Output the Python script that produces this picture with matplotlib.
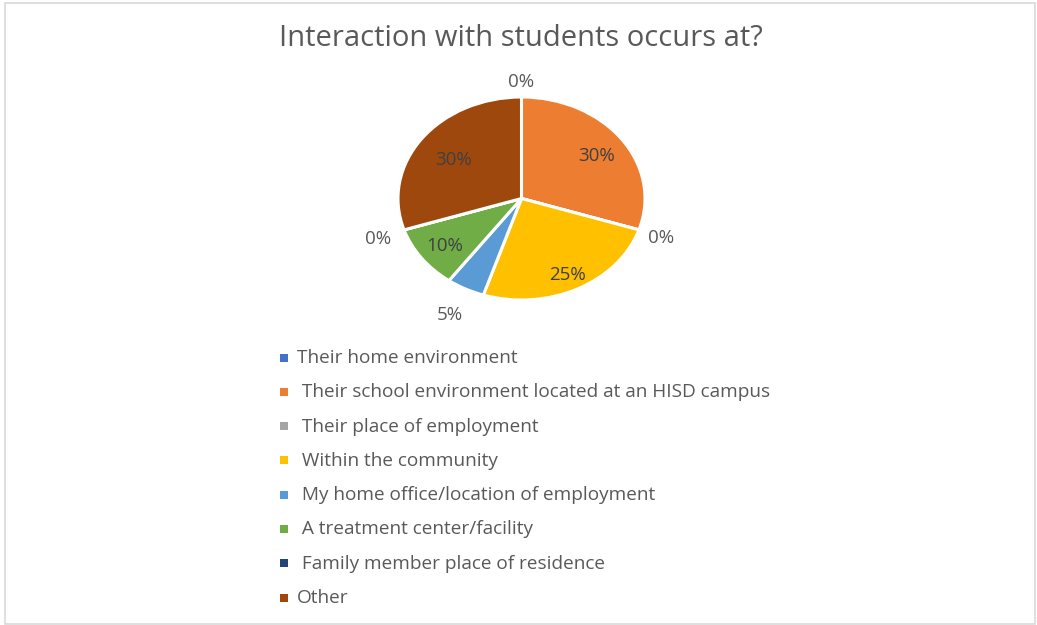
import matplotlib
matplotlib.use("Agg")
import matplotlib.pyplot as plt
import numpy as np

plt.rcParams['font.family'] = ['Open Sans', 'DejaVu Sans']

title = "Interaction with students occurs at?"
categories = [
    "Their home environment",
    " Their school environment located at an HISD campus",
    " Their place of employment",
    " Within the community",
    " My home office/location of employment",
    " A treatment center/facility",
    " Family member place of residence",
    "Other",
]
percents = [0, 30, 0, 25, 5, 10, 0, 30]
colors = ["#4472C4", "#ED7D31", "#A5A5A5", "#FFC000",
          "#5B9BD5", "#70AD47", "#264478", "#9E480E"]

# label placement: radial distance (fraction of radius) per slice
label_radius = [1.17, 0.75, 1.19, 0.82, 1.27, 0.77, 1.22, 0.68]

W, H = 1037, 625
fig = plt.figure(figsize=(W / 100, H / 100), dpi=100)
fig.patch.set_facecolor("white")

# chart border
fig.add_artist(plt.Rectangle((5 / W, 1 / H), 1030 / W, 621 / H,
                             transform=fig.transFigure, fill=False,
                             edgecolor="#d9d9d9", linewidth=1.2))

fig.text(521 / W, 1 - 38 / H, title, ha="center", va="center",
         fontsize=21, color="#595959")

# pie axes spans the ellipse of the plot area
left, right, top, bottom = 398, 645, 97, 300
ax = fig.add_axes([left / W, 1 - bottom / H, (right - left) / W, (bottom - top) / H])
ax.pie(percents, colors=colors, startangle=90, counterclock=False,
       wedgeprops=dict(edgecolor="white", linewidth=2.2), radius=1.0)
ax.set_aspect("auto")
ax.set_xlim(-1, 1)
ax.set_ylim(-1, 1)
ax.axis("off")

total = float(sum(percents))
start = 90.0
for val, r in zip(percents, label_radius):
    sweep = 360.0 * val / total
    mid = np.deg2rad(start - sweep / 2)
    inside = r < 1
    ax.text(r * np.cos(mid), r * np.sin(mid) - 0.02, f"{val:.0f}%",
            ha="center", va="center", fontsize=13.5,
            color="#404040" if inside else "#595959", clip_on=False)
    start -= sweep

# legend, one entry per row
row0, step = 358, 34.3
for i, (name, c) in enumerate(zip(categories, colors)):
    y = 1 - (row0 + i * step) / H
    fig.add_artist(plt.Rectangle((280 / W, y - 3.5 / H), 8 / W, 8 / H,
                                 transform=fig.transFigure, facecolor=c,
                                 edgecolor="none"))
    fig.text(297 / W, y, name, ha="left", va="center",
             fontsize=13.7, color="#595959")

fig.savefig("out.png", dpi=100)
